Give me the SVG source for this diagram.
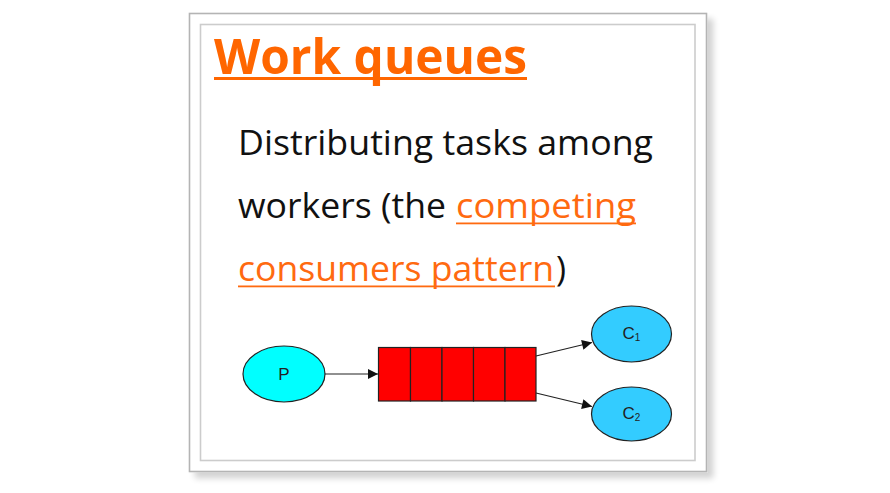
<svg xmlns="http://www.w3.org/2000/svg" width="890" height="493" viewBox="0 0 890 493">
<defs>
<style>
.body{font-family:"Open Sans","Liberation Sans",sans-serif;font-size:34px;fill:#111}
.link{fill:#ff6a10}
.title{font-family:"Open Sans","Liberation Sans",sans-serif;font-size:49px;font-weight:700;fill:#ff6600}
.lbl{font-family:"Liberation Sans","DejaVu Sans",sans-serif;font-size:17px;fill:#222;text-anchor:middle}
.edge{stroke:#222;stroke-width:1.2;fill:none}
.cell{fill:#ff0000;stroke:#222;stroke-width:1.2}
</style>
<filter id="sh" x="-5%" y="-5%" width="115%" height="115%">
<feGaussianBlur in="SourceAlpha" stdDeviation="3"/>
<feOffset dx="6" dy="6" result="b"/>
<feComponentTransfer in="b" result="c"><feFuncA type="linear" slope="0.18"/></feComponentTransfer>
<feMerge><feMergeNode in="c"/><feMergeNode in="SourceGraphic"/></feMerge>
</filter>
<marker id="ah" viewBox="0 0 10 10" refX="10" refY="5" markerWidth="15" markerHeight="10" markerUnits="userSpaceOnUse" orient="auto">
<path d="M0,0 L10,5 L0,10 z" fill="#111"/>
</marker>
</defs>
<rect width="890" height="493" fill="#ffffff"/>
<g id="card">
<rect x="189.5" y="13.5" width="517" height="458" fill="#ffffff" stroke="#b4b4b4" stroke-width="1.6" filter="url(#sh)"/>
<rect x="200.5" y="24.5" width="494.5" height="436" fill="#ffffff" stroke="#cccccc" stroke-width="1.6"/>
</g>
<g id="title">
<text class="title" x="214" y="74" textLength="313" lengthAdjust="spacingAndGlyphs">Work queues</text>
<rect x="214" y="77" width="313" height="3" fill="#ff6600"/>
</g>
<g id="description">
<text class="body" x="238" y="155" textLength="415" lengthAdjust="spacingAndGlyphs">Distributing tasks among</text>
<text class="body" x="238" y="218" textLength="208" lengthAdjust="spacingAndGlyphs">workers (the</text>
<text class="body link" x="456" y="218" textLength="180" lengthAdjust="spacingAndGlyphs">competing</text>
<rect x="456" y="222.5" width="180" height="1.8" fill="#ff6a10"/>
<text class="body link" x="238" y="281" textLength="316" lengthAdjust="spacingAndGlyphs">consumers pattern</text>
<rect x="238" y="285.5" width="317" height="1.8" fill="#ff6a10"/>
<text class="body" x="556" y="281">)</text>
</g>
<g id="connectors">
<line class="edge" x1="325" y1="374" x2="378" y2="374" marker-end="url(#ah)"/>
<line class="edge" x1="536" y1="356" x2="592" y2="342.5" marker-end="url(#ah)"/>
<line class="edge" x1="536" y1="393" x2="592" y2="406.5" marker-end="url(#ah)"/>
</g>
<g id="P">
<ellipse cx="284" cy="374" rx="41" ry="28" fill="#00ffff" stroke="#222" stroke-width="1.2"/>
<text class="lbl" x="284" y="380">P</text>
</g>
<g id="queue">
<rect class="cell" x="378.5" y="347.5" width="32" height="53.5"/>
<rect class="cell" x="410.5" y="347.5" width="31.5" height="53.5"/>
<rect class="cell" x="442" y="347.5" width="31.5" height="53.5"/>
<rect class="cell" x="473.5" y="347.5" width="31.5" height="53.5"/>
<rect class="cell" x="505" y="347.5" width="31" height="53.5"/>
</g>
<g id="C1">
<ellipse cx="631.5" cy="334" rx="40" ry="28" fill="#33ccff" stroke="#222" stroke-width="1.2"/>
<text class="lbl" x="631.5" y="339">C<tspan font-size="10" dy="2">1</tspan></text>
</g>
<g id="C2">
<ellipse cx="631.5" cy="414" rx="40" ry="27" fill="#33ccff" stroke="#222" stroke-width="1.2"/>
<text class="lbl" x="631.5" y="419">C<tspan font-size="10" dy="2">2</tspan></text>
</g>
</svg>
